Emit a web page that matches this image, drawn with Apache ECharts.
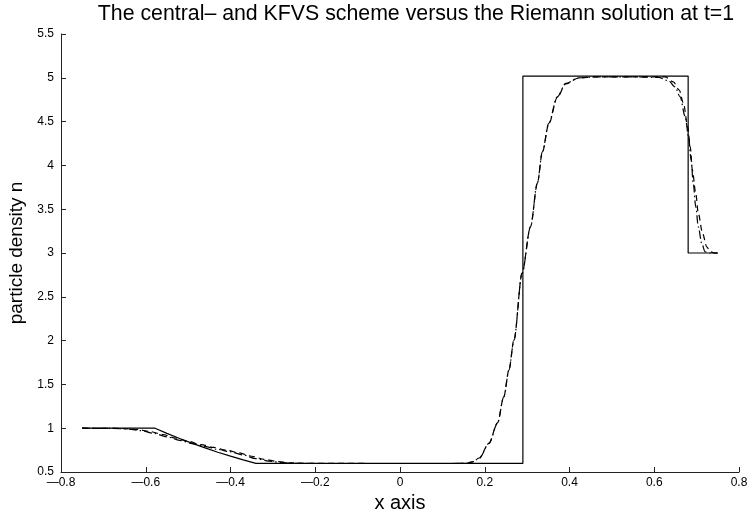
<!DOCTYPE html>
<html>
<head>
<meta charset="utf-8">
<script src="https://cdn.jsdelivr.net/npm/echarts@6/dist/echarts.min.js"></script>
<style>
html,body{margin:0;padding:0;background:#fff;}
#chart{width:753px;height:512px;}
</style>
</head>
<body>
<div id="chart"></div>
<script>
// Exact Riemann solution (solid)
var xExact = [-0.75, -0.578, -0.55, -0.52, -0.49, -0.46, -0.43, -0.40, -0.37, -0.34, 0.29, 0.29, 0.68, 0.68, 0.75];
var yExact = [1.0, 1.0, 0.941, 0.882, 0.827, 0.775, 0.726, 0.681, 0.638, 0.598, 0.598, 5.02, 5.02, 3.0, 3.0];

// Scheme 1 (dash-dot)
var xDashDot = [-0.75, -0.68, -0.64, -0.61, -0.58, -0.55, -0.52, -0.49, -0.46, -0.43, -0.40, -0.37, -0.34, -0.31, -0.28, -0.25, -0.20, 0.00, 0.12, 0.155, 0.17, 0.187, 0.21, 0.23, 0.245, 0.257, 0.269, 0.288, 0.308, 0.324, 0.336, 0.351, 0.371, 0.391, 0.422, 0.46, 0.55, 0.61, 0.634, 0.649, 0.661, 0.673, 0.681, 0.687, 0.692, 0.698, 0.704, 0.712, 0.72, 0.73, 0.75];
var yDashDot = [1.0, 0.998, 0.99, 0.972, 0.94, 0.902, 0.862, 0.824, 0.79, 0.758, 0.73, 0.694, 0.652, 0.625, 0.608, 0.600, 0.597, 0.597, 0.597, 0.598, 0.613, 0.655, 0.826, 1.055, 1.358, 1.663, 2.006, 2.767, 3.299, 3.795, 4.155, 4.479, 4.783, 4.936, 5.0, 5.01, 5.01, 5.005, 4.966, 4.897, 4.783, 4.555, 4.327, 4.06, 3.795, 3.527, 3.299, 3.11, 3.014, 3.0, 3.0];

// Scheme 2 (dashed)
var xDashed = [-0.75, -0.66, -0.62, -0.59, -0.56, -0.53, -0.50, -0.47, -0.44, -0.41, -0.38, -0.35, -0.32, -0.29, -0.26, -0.22, 0.00, 0.12, 0.155, 0.17, 0.187, 0.21, 0.23, 0.245, 0.257, 0.269, 0.288, 0.308, 0.324, 0.336, 0.351, 0.371, 0.391, 0.422, 0.46, 0.55, 0.626, 0.645, 0.659, 0.669, 0.679, 0.685, 0.69, 0.698, 0.704, 0.714, 0.724, 0.732, 0.742, 0.75];
var yDashed = [1.0, 0.997, 0.985, 0.962, 0.928, 0.888, 0.85, 0.812, 0.78, 0.75, 0.718, 0.68, 0.645, 0.62, 0.605, 0.598, 0.597, 0.597, 0.599, 0.616, 0.66, 0.83, 1.06, 1.36, 1.665, 2.01, 2.77, 3.3, 3.79, 4.15, 4.47, 4.775, 4.93, 4.998, 5.01, 5.01, 5.01, 4.954, 4.86, 4.708, 4.44, 4.21, 3.946, 3.68, 3.452, 3.224, 3.071, 3.014, 3.0, 3.0];

var titleText = 'The central\u2013 and KFVS scheme versus the Riemann solution at t=1';
var xName = 'x axis';
var yName = 'particle density n';

function zip(xs, ys) { return xs.map(function (x, i) { return [x, ys[i]]; }); }
function fmt(v) {
  var s = (Math.round(v * 10) / 10).toString();
  if (s.charAt(0) === '-') s = '\u2014' + s.slice(1);
  return s;
}

var FONT = '"Liberation Sans", Arial, Helvetica, sans-serif';
var chart = echarts.init(document.getElementById('chart'), null, { renderer: 'canvas' });
chart.setOption({
  animation: false,
  backgroundColor: '#ffffff',
  title: {
    text: titleText,
    left: 411, top: -1, textAlign: 'center',
    textStyle: { fontFamily: FONT, fontSize: 21.3, fontWeight: 'normal', color: '#000' }
  },
  grid: { left: 61, right: 14, top: 34, bottom: 40, containLabel: false, outerBoundsMode: 'none' },
  xAxis: {
    type: 'value', min: -0.8, max: 0.8, interval: 0.2,
    name: xName, nameLocation: 'middle', nameGap: 14,
    nameTextStyle: { fontFamily: FONT, fontSize: 20, color: '#000' },
    axisLine: { show: true, onZero: false, lineStyle: { color: '#222', width: 1 } },
    axisTick: { show: true, inside: true, length: 5, lineStyle: { color: '#222' } },
    axisLabel: { fontFamily: FONT, fontSize: 12, color: '#000', margin: 5, formatter: fmt },
    splitLine: { show: false }
  },
  yAxis: {
    type: 'value', min: 0.5, max: 5.5, interval: 0.5,
    name: yName, nameLocation: 'middle', nameGap: 33, nameRotate: 90,
    nameTextStyle: { fontFamily: FONT, fontSize: 19, color: '#000' },
    axisLine: { show: true, onZero: false, lineStyle: { color: '#222', width: 1 } },
    axisTick: { show: true, inside: true, length: 5, lineStyle: { color: '#222' } },
    axisLabel: { fontFamily: FONT, fontSize: 12, color: '#000', margin: 7 },
    splitLine: { show: false }
  },
  series: [
    { type: 'line', name: 'exact', data: zip(xExact, yExact), showSymbol: false, symbol: 'none',
      lineStyle: { color: '#000', width: 1.2, type: 'solid' } },
    { type: 'line', name: 'dashdot', data: zip(xDashDot, yDashDot), showSymbol: false, symbol: 'none',
      smooth: 0.3, smoothMonotone: 'x',
      lineStyle: { color: '#000', width: 1.2, type: [8, 3, 1.5, 3] } },
    { type: 'line', name: 'dashed', data: zip(xDashed, yDashed), showSymbol: false, symbol: 'none',
      smooth: 0.3, smoothMonotone: 'x',
      lineStyle: { color: '#000', width: 1.2, type: [6, 4] } }
  ]
});
</script>
</body>
</html>
